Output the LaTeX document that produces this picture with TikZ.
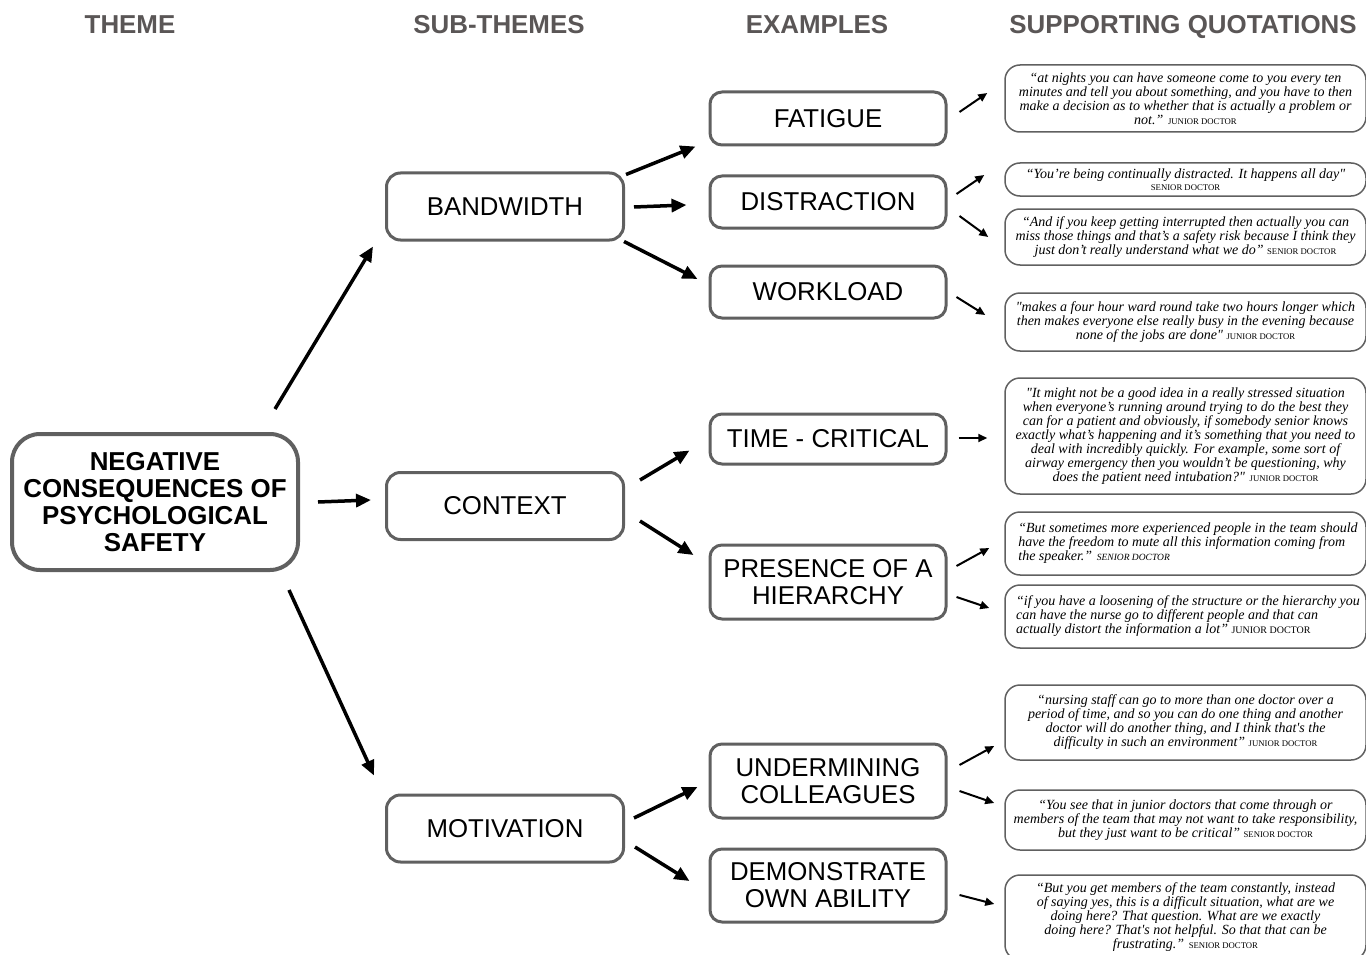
\documentclass[tikz,border=0pt]{standalone}
\usepackage{fontspec}
\setmainfont{Liberation Serif}
\newfontfamily\arialf{Liberation Sans}
\usetikzlibrary{arrows.meta}
\definecolor{hdrgray}{HTML}{5A5656}
\definecolor{boxgray}{HTML}{606060}
\newcommand{\qsrc}[1]{{\upshape\fontsize{8.7}{10}\selectfont #1}}
\newcommand{\qsrcit}[1]{{\itshape\fontsize{9.5}{10}\selectfont #1}}
\newcommand{\qsrcbig}[1]{{\upshape\fontsize{10}{10}\selectfont #1}}
\newcommand{\sq}{\textquotedbl}
\tikzset{
  hdr/.style={font=\arialf\bfseries\fontsize{25.9}{28}\selectfont, text=hdrgray, inner sep=0pt, anchor=base},
  mainbox/.style={draw=boxgray, line width=4pt, rounded corners=28pt, minimum width=286pt, minimum height=136pt, align=center, font=\arialf\bfseries\fontsize{25.9}{27}\selectfont, inner sep=0pt},
  subbox/.style={draw=boxgray, line width=3pt, rounded corners=14pt, minimum width=237pt, minimum height=67pt, align=center, font=\arialf\fontsize{25.8}{27}\selectfont, inner sep=0pt},
  exbox/.style={draw=boxgray, line width=3pt, rounded corners=12pt, minimum width=236pt, align=center, font=\arialf\fontsize{25.8}{27}\selectfont, inner sep=0pt},
  qbox/.style={draw=boxgray, line width=1.5pt, rounded corners=15pt, minimum width=361pt, align=center, font=\itshape\fontsize{14}{14}\selectfont, inner sep=0pt},
  arr/.style={line width=3.5pt, -{Triangle[length=15pt,width=13pt]}},
  sarr/.style={line width=2pt, -{Triangle[length=9pt,width=8pt]}}
}
\begin{document}
\begin{tikzpicture}[x=1pt,y=-1pt]
\useasboundingbox[fill=white] (0,0) rectangle (1366,955);
% headers
\node[hdr] (h1) at (130,34) {THEME};
\node[hdr] (h2) at (499,34) {SUB-THEMES};
\node[hdr] (h3) at (817,34) {EXAMPLES};
\node[hdr] (h4) at (1183,34) {SUPPORTING QUOTATIONS};
% main
\node[mainbox] (main) at (155,502) {NEGATIVE\\CONSEQUENCES OF\\PSYCHOLOGICAL\\SAFETY};
% sub-themes
\node[subbox] (band) at (505,206.5) {BANDWIDTH};
\node[subbox] (ctx) at (505,506) {CONTEXT};
\node[subbox] (mot) at (505,828.5) {MOTIVATION};
% examples
\node[exbox, minimum height=53pt] (fat) at (828,118.5) {FATIGUE};
\node[exbox, minimum height=52pt] (dist) at (828,202) {DISTRACTION};
\node[exbox, minimum height=52pt] (work) at (828,292) {WORKLOAD};
\node[exbox, minimum height=50pt] (time) at (828,439) {TIME - CRITICAL};
\node[exbox, minimum height=74pt] (pres) at (828,582) {PRESENCE OF A\\HIERARCHY};
\node[exbox, minimum height=74pt] (und) at (828,781) {UNDERMINING\\COLLEAGUES};
\node[exbox, minimum height=73pt] (dem) at (828,885.5) {DEMONSTRATE\\OWN ABILITY};
% quotations
\node[qbox, minimum height=67pt] (q1) at (1185.5,98.5) {“at nights you can have someone come to you every ten\\minutes and tell you about something, and you have to then\\make a decision as to whether that is actually a problem or\\not.” \qsrc{JUNIOR DOCTOR}};
\node[qbox, minimum height=33pt] (q2) at (1185.5,179.5) {“You’re being continually distracted. It happens all day\sq\\[-1.5pt]\qsrc{SENIOR DOCTOR}};
\node[qbox, minimum height=56pt] (q3) at (1185.5,237) {“And if you keep getting interrupted then actually you can\\miss those things and that’s a safety risk because I think they\\just don’t really understand what we do” \qsrc{SENIOR DOCTOR}};
\node[qbox, minimum height=58pt] (q4) at (1185.5,322) {\sq makes a four hour ward round take two hours longer which\\then makes everyone else really busy in the evening because\\none of the jobs are done\sq{} \qsrc{JUNIOR DOCTOR}};
\node[qbox, minimum height=116pt] (q5) at (1185.5,436) {\sq It might not be a good idea in a really stressed situation\\when everyone’s running around trying to do the best they\\can for a patient and obviously, if somebody senior knows\\exactly what’s happening and it’s something that you need to\\deal with incredibly quickly. For example, some sort of\\airway emergency then you wouldn’t be questioning, why\\does the patient need intubation?\sq{} \qsrc{JUNIOR DOCTOR}};
\node[qbox, minimum height=63pt] (q6) at (1185.5,543.5) {\begin{tabular}{@{\hspace*{5pt}}l@{}}“But sometimes more experienced people in the team should\\have the freedom to mute all this information coming from\\the speaker.” \qsrcit{SENIOR DOCTOR}\end{tabular}};
\node[qbox, minimum height=63pt] (q7) at (1185.5,616.5) {\begin{tabular}{@{\hspace*{5pt}}l@{}}“if you have a loosening of the structure or the hierarchy you\\can have the nurse go to different people and that can\\actually distort the information a lot” \qsrcbig{JUNIOR DOCTOR}\end{tabular}};
\node[qbox, minimum height=75pt] (q8) at (1185.5,722.5) {“nursing staff can go to more than one doctor over a\\period of time, and so you can do one thing and another\\doctor will do another thing, and I think that\textquotesingle s the\\difficulty in such an environment” \qsrc{JUNIOR DOCTOR}};
\node[qbox, minimum height=60pt] (q9) at (1185.5,820) {“You see that in junior doctors that come through or\\members of the team that may not want to take responsibility,\\but they just want to be critical” \qsrc{SENIOR DOCTOR}};
\node[qbox, minimum height=85pt] (q10) at (1185.5,917.5) {“But you get members of the team constantly, instead\\of saying yes, this is a difficult situation, what are we\\doing here? That question. What are we exactly\\doing here? That\textquotesingle s not helpful. So that that can be\\frustrating.” \qsrc{SENIOR DOCTOR}};
% arrows: theme -> sub-themes
\draw[arr] ([shift={(-25,-23)}]main.north east) -- ([shift={(-12,5)}]band.south west);
\draw[arr] ([shift={(18,0)}]main.east) -- ([shift={(-14,-6)}]ctx.west);
\draw[arr] ([shift={(-11,18)}]main.south east) -- ([shift={(-11,-18)}]mot.north west);
% sub-themes -> examples
\draw[arr] ([shift={(1,3)}]band.north east) -- ([shift={(-13,0)}]fat.south west);
\draw[arr] ([shift={(9,0.5)}]band.east) -- ([shift={(-22,3)}]dist.west);
\draw[arr] ([shift={(-1,0)}]band.south east) -- ([shift={(-11,-13)}]work.west);
\draw[arr] ([shift={(15,-26)}]ctx.east) -- ([shift={(-19,-15)}]time.south west);
\draw[arr] ([shift={(15,15)}]ctx.east) -- ([shift={(-15,-27)}]pres.west);
\draw[arr] ([shift={(9,-10.5)}]mot.east) -- ([shift={(-11,6)}]und.west);
\draw[arr] ([shift={(10,18.5)}]mot.east) -- ([shift={(-19,-4.5)}]dem.west);
% examples -> quotations
\draw[sarr] ([shift={(12,-6.5)}]fat.east) -- ([shift={(-17,-5.5)}]q1.west);
\draw[sarr] ([shift={(9,-8)}]dist.east) -- ([shift={(-20,-4.5)}]q2.west);
\draw[sarr] ([shift={(12,14)}]dist.east) -- ([shift={(-16,0)}]q3.west);
\draw[sarr] ([shift={(9,5)}]work.east) -- ([shift={(-19,-7)}]q4.west);
\draw[sarr] ([shift={(11,-1)}]time.east) -- ([shift={(-17,2)}]q5.west);
\draw[sarr] ([shift={(9,-16)}]pres.east) -- ([shift={(-15,4.5)}]q6.west);
\draw[sarr] ([shift={(9,15)}]pres.east) -- ([shift={(-15,-8.5)}]q7.west);
\draw[sarr] ([shift={(12,-16)}]und.east) -- ([shift={(-10,23.5)}]q8.west);
\draw[sarr] ([shift={(12,10)}]und.east) -- ([shift={(-10,-17)}]q9.west);
\draw[sarr] ([shift={(12,9.5)}]dem.east) -- ([shift={(-10,-13.5)}]q10.west);
\end{tikzpicture}
\end{document}
